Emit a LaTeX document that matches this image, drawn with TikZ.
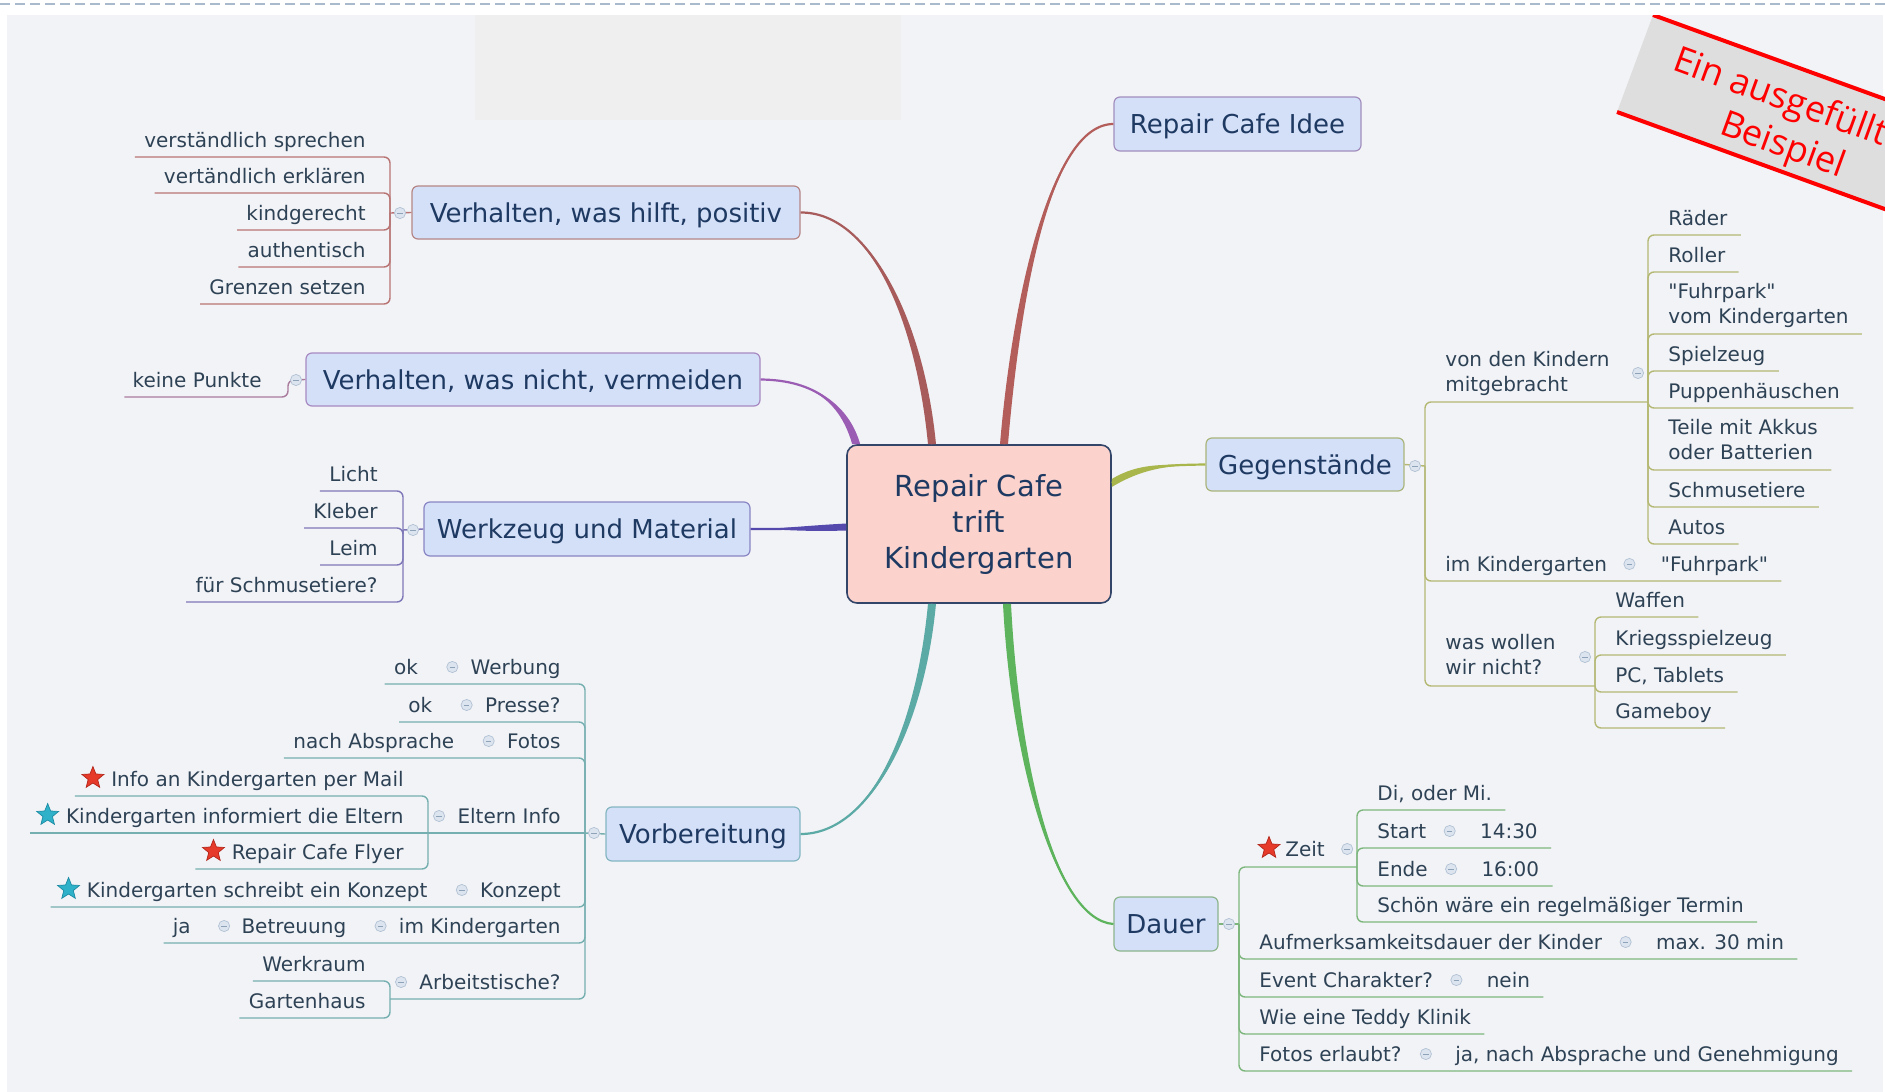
\documentclass[tikz,border=0pt]{standalone}
\usepackage{fontspec}
\setmainfont{DejaVu Sans}
\newfontfamily\bannerfont{Open Sans}
\usetikzlibrary{calc,shapes.geometric}
\definecolor{bgc}{HTML}{F2F3F7}
\definecolor{bgctwo}{HTML}{EFEFF0}
\definecolor{dashc}{HTML}{A9BACD}
\definecolor{topicfill}{HTML}{D4DFF8}
\definecolor{topictext}{HTML}{1E3A62}
\definecolor{subtext}{HTML}{2E4255}
\definecolor{ctrfill}{HTML}{FCD3CC}
\definecolor{ctrdraw}{HTML}{33466A}
\definecolor{cIdee}{HTML}{B35E5B}
\definecolor{cHilft}{HTML}{A85B5B}
\definecolor{cNicht}{HTML}{9B5CB4}
\definecolor{cWerk}{HTML}{5549AE}
\definecolor{cVor}{HTML}{5CAAA6}
\definecolor{cDauer}{HTML}{5DB45D}
\definecolor{cGeg}{HTML}{A9B64C}
\definecolor{bIdee}{HTML}{A28EBE}
\definecolor{bHilft}{HTML}{B58686}
\definecolor{bNicht}{HTML}{A88AC2}
\definecolor{bWerk}{HTML}{8A85C4}
\definecolor{bVor}{HTML}{84B6C2}
\definecolor{bGeg}{HTML}{A9B57A}
\definecolor{bDauer}{HTML}{8DB58D}
\definecolor{lHilft}{HTML}{B87474}
\definecolor{lNicht}{HTML}{A97C9E}
\definecolor{lWerk}{HTML}{7E78B8}
\definecolor{lVor}{HTML}{76AFB0}
\definecolor{lGeg}{HTML}{B4B872}
\definecolor{lDauer}{HTML}{7DB67D}
\definecolor{colfill}{HTML}{DCE4EF}
\definecolor{coldraw}{HTML}{B2C2D4}
\definecolor{colmin}{HTML}{8EA2B8}
\definecolor{bannergray}{HTML}{DEDEDE}
\definecolor{bannerred}{HTML}{FF0000}
\definecolor{starred}{HTML}{E63B2B}
\definecolor{starredd}{HTML}{B32519}
\definecolor{starcyan}{HTML}{2FB2C9}
\definecolor{starcyand}{HTML}{1B8BA3}
\begin{document}
\begin{tikzpicture}[x=0.5pt,y=-0.5pt,
 topic/.style={draw=#1, fill=topicfill, rounded corners=3pt, line width=0.6pt, text=topictext, font=\fontsize{13}{15}\selectfont, inner sep=0pt, text depth=0pt},
 sub/.style={inner sep=0pt, text=subtext, font=\fontsize{10}{12.5}\selectfont},
 lsub/.style={sub, anchor=base east},
 rsub/.style={sub, anchor=base west},
 msub/.style={sub, align=left, text depth=0pt, anchor=south west},
 collapse/.style={circle, draw=coldraw, fill=colfill, line width=0.35pt, minimum size=5.6pt, inner sep=0pt, path picture={\draw[colmin, line width=0.45pt] ([xshift=-1.4pt]path picture bounding box.center) -- ([xshift=1.4pt]path picture bounding box.center);}},
 brline/.style={line width=0.7pt, rounded corners=3pt},
 starshape/.style={star, star points=5, star point ratio=2.3, minimum size=11.5pt, inner sep=0pt, line width=0.35pt},
 redstar/.style={starshape, fill=starred, draw=starredd},
 cyanstar/.style={starshape, fill=starcyan, draw=starcyand}]
\useasboundingbox (0,0) rectangle (1885,1092);
% background
\fill[white] (0,0) rectangle (1885,1092);
\fill[bgc] (7,15) rectangle (1883,1092);
\fill[bgctwo] (475,15) rectangle (901,120);
\draw[dashc, line width=1pt, dash pattern=on 5pt off 2.5pt] (0,4) -- (1885,4);
% banner
\begin{scope}
\clip (7,15) rectangle (1885,1092);
\fill[bannergray] (1653,15) -- (1973,131) -- (1937,228) -- (1617,112) -- cycle;
\draw[bannerred, line width=2pt] (1653,15) -- (1973,131);
\draw[bannerred, line width=2pt] (1617,112) -- (1937,228);
\node[rotate=-20, align=center, text=bannerred, inner sep=0pt, font=\bannerfont\fontsize{18}{22}\selectfont] (banner) at (1790,126) {Ein ausgefüllte\phantom{s}\\Beispiel};
\end{scope}
% central and main topics
\node[draw=ctrdraw, fill=ctrfill, line width=0.8pt, rounded corners=5pt, minimum width=132pt, minimum height=79pt, align=center, text=topictext, font=\fontsize{14.5}{18}\selectfont, inner sep=0pt] (ctr) at (979,524) {Repair Cafe\\trift\\Kindergarten};
\node[topic=bIdee, minimum width=123.5pt, minimum height=27pt] (idee) at (1237.5,124) {Repair Cafe Idee};
\node[topic=bHilft, minimum width=194pt, minimum height=26.5pt] (hilft) at (606,212.5) {Verhalten, was hilft, positiv};
\node[topic=bNicht, minimum width=227pt, minimum height=26.5pt] (nicht) at (533,379.5) {Verhalten, was nicht, vermeiden};
\node[topic=bWerk, minimum width=163pt, minimum height=27pt] (werk) at (587,529) {Werkzeug und Material};
\node[topic=bVor, minimum width=97pt, minimum height=27pt] (vor) at (703,834) {Vorbereitung};
\node[topic=bGeg, minimum width=99pt, minimum height=26.5pt] (geg) at (1305,464.5) {Gegenstände};
\node[topic=bDauer, minimum width=52pt, minimum height=27pt] (dauer) at (1166,924) {Dauer};
% main tapered connectors
\coordinate (sIdee) at ($(ctr.north)+(25,0)$);
\fill[cIdee] ($(sIdee)+(-4,0)$) .. controls (1012,300) and (1050,124) .. (idee.west) .. controls (1050,124) and (1020,300) .. ($(sIdee)+(4,0)$) -- cycle;
\draw[cIdee, line width=1.1pt] (sIdee) .. controls (1016,300) and (1050,124) .. (idee.west);
\coordinate (sHilft) at ($(ctr.north)+(-47,0)$);
\fill[cHilft] ($(sHilft)+(-4,0)$) .. controls (916,320) and (870,212) .. (hilft.east) .. controls (870,212) and (924,320) .. ($(sHilft)+(4,0)$) -- cycle;
\draw[cHilft, line width=1.1pt] (sHilft) .. controls (920,320) and (870,212) .. (hilft.east);
\coordinate (sNicht) at ($(ctr.north west)+(10,0)$);
\fill[cNicht] ($(sNicht)+(-4,0)$) .. controls (841,405) and (815,380) .. (nicht.east) .. controls (815,380) and (849,405) .. ($(sNicht)+(4,0)$) -- cycle;
\draw[cNicht, line width=1.1pt] (sNicht) .. controls (845,405) and (815,380) .. (nicht.east);
\coordinate (sWerk) at ($(ctr.west)+(0,3)$);
\fill[cWerk] ($(sWerk)+(0,-3.5)$) .. controls (800,526) and (780,529) .. (werk.east) .. controls (780,529) and (800,532) .. ($(sWerk)+(0,3.5)$) -- cycle;
\draw[cWerk, line width=1.1pt] (sWerk) .. controls (800,529) and (780,529) .. (werk.east);
\coordinate (sGeg) at ($(ctr.east)+(0,-41)$);
\fill[cGeg] ($(sGeg)+(0,-4)$) .. controls (1140,462) and (1165,465) .. (geg.west) .. controls (1165,465) and (1140,470) .. ($(sGeg)+(0,4)$) -- cycle;
\draw[cGeg, line width=1.1pt] (sGeg) .. controls (1140,466) and (1165,465) .. (geg.west);
\coordinate (sVor) at ($(ctr.south)+(-47,0)$);
\fill[cVor] ($(sVor)+(-4,0)$) .. controls (916,730) and (870,834) .. (vor.east) .. controls (870,834) and (924,730) .. ($(sVor)+(4,0)$) -- cycle;
\draw[cVor, line width=1.1pt] (sVor) .. controls (920,730) and (870,834) .. (vor.east);
\coordinate (sDauer) at ($(ctr.south)+(28,0)$);
\fill[cDauer] ($(sDauer)+(-4,0)$) .. controls (1011,760) and (1055,920) .. (dauer.west) .. controls (1055,920) and (1019,760) .. ($(sDauer)+(4,0)$) -- cycle;
\draw[cDauer, line width=1.1pt] (sDauer) .. controls (1015,760) and (1055,920) .. (dauer.west);
% --- Verhalten, was hilft
\node[lsub] (a1) at (366,147) {verständlich sprechen};
\node[lsub] (a2) at (366,183) {vertändlich erklären};
\node[lsub] (a3) at (366,220) {kindgerecht};
\node[lsub] (a4) at (366,257) {authentisch};
\node[lsub] (a5) at (366,294) {Grenzen setzen};
\coordinate (pA) at (390,213);
\begin{scope}[lHilft, brline]
\draw (hilft.west) -- (pA);
\draw (pA) |- ($(a1.base west)+(-9,10)$);
\draw (pA) |- ($(a2.base west)+(-9,10)$);
\draw (pA) |- ($(a3.base west)+(-9,10)$);
\draw (pA) |- ($(a4.base west)+(-9,10)$);
\draw (pA) |- ($(a5.base west)+(-9,10)$);
\end{scope}
\node[collapse] (kA) at (400,213) {};
% --- Verhalten, was nicht
\node[lsub] (b1) at (262,387) {keine Punkte};
\coordinate (pB) at (288,380);
\draw[lNicht, brline] (nicht.west) -- (pB) |- ($(b1.base west)+(-8,10)$);
\node[collapse] (kB) at (296,380) {};
% --- Werkzeug
\node[lsub] (c1) at (378,481) {Licht};
\node[lsub] (c2) at (378,518) {Kleber};
\node[lsub] (c3) at (378,555) {Leim};
\node[lsub] (c4) at (378,592) {für Schmusetiere?};
\coordinate (pC) at (403,530);
\begin{scope}[lWerk, brline]
\draw (werk.west) -- (pC);
\draw (pC) |- ($(c1.base west)+(-9,10)$);
\draw (pC) |- ($(c2.base west)+(-9,10)$);
\draw (pC) |- ($(c3.base west)+(-9,10)$);
\draw (pC) |- ($(c4.base west)+(-9,10)$);
\end{scope}
\node[collapse] (kC) at (413,530) {};
% --- Vorbereitung
\node[lsub] (d1) at (561,674) {Werbung};
\node[lsub] (d1b) at ($(d1.base west)+(-52,0)$) {ok};
\node[lsub] (d2) at (561,712) {Presse?};
\node[lsub] (d2b) at ($(d2.base west)+(-52,0)$) {ok};
\node[lsub] (d3) at (561,748) {Fotos};
\node[lsub] (d3b) at ($(d3.base west)+(-52,0)$) {nach Absprache};
\node[lsub] (d4) at (561,823) {Eltern Info};
\node[lsub] (d41) at (404,786) {Info an Kindergarten per Mail};
\node[lsub] (d42) at (404,823) {Kindergarten informiert die Eltern};
\node[lsub] (d43) at (404,859) {Repair Cafe Flyer};
\node[lsub] (d5) at (561,897) {Konzept};
\node[lsub] (d5b) at ($(d5.base west)+(-52,0)$) {Kindergarten schreibt ein Konzept};
\node[lsub] (d6) at (561,933) {im Kindergarten};
\node[lsub] (d6b) at ($(d6.base west)+(-52,0)$) {Betreuung};
\node[lsub] (d6c) at ($(d6b.base west)+(-50,0)$) {ja};
\node[lsub] (d7) at (561,989) {Arbeitstische?};
\node[lsub] (d71) at (366,971) {Werkraum};
\node[lsub] (d72) at (366,1008) {Gartenhaus};
\coordinate (pD) at (585,833);
\coordinate (pE) at (428,833);
\coordinate (pF) at (390,999);
\begin{scope}[lVor, brline]
\draw (vor.west) -- (pD);
\draw (pD) |- ($(d1b.base west)+(-9,10)$);
\draw (pD) |- ($(d2b.base west)+(-9,10)$);
\draw (pD) |- ($(d3b.base west)+(-9,10)$);
\draw (pD) -- (pE);
\draw (pE) |- ($(d41.base west)+(-36,10)$);
\draw (pE) -- ($(d42.base west)+(-36,10)$);
\draw (pE) |- ($(d43.base west)+(-36,10)$);
\draw (pD) |- ($(d5b.base west)+(-36,10)$);
\draw (pD) |- ($(d6c.base west)+(-9,10)$);
\draw (pD) |- (pF);
\draw (pF) |- ($(d71.base west)+(-9,10)$);
\draw (pF) |- ($(d72.base west)+(-9,10)$);
\end{scope}
\node[collapse] (kD) at (594,833) {};
\node[collapse] (kD1) at ($(d1.base west)+(-18,-7)$) {};
\node[collapse] (kD2) at ($(d2.base west)+(-18,-7)$) {};
\node[collapse] (kD3) at ($(d3.base west)+(-18,-7)$) {};
\node[collapse] (kD4) at ($(d4.base west)+(-18,-7)$) {};
\node[collapse] (kD5) at ($(d5.base west)+(-18,-7)$) {};
\node[collapse] (kD6) at ($(d6.base west)+(-18,-7)$) {};
\node[collapse] (kD6b) at ($(d6b.base west)+(-17,-7)$) {};
\node[collapse] (kD7) at ($(d7.base west)+(-18,-7)$) {};
\node[redstar] (st1) at ($(d41.base west)+(-18,-8)$) {};
\node[cyanstar] (st2) at ($(d42.base west)+(-18,-8)$) {};
\node[redstar] (st3) at ($(d43.base west)+(-18,-8)$) {};
\node[cyanstar] (st4) at ($(d5b.base west)+(-18,-8)$) {};
% --- Gegenstaende
\node[msub] (e1) at (1445,392) {von den Kindern\\mitgebracht};
\node[rsub] (f1) at (1668,225) {Räder};
\node[rsub] (f2) at (1668,262) {Roller};
\node[msub] (f3) at (1668,324) {\textquotedbl Fuhrpark\textquotedbl\\vom Kindergarten};
\node[rsub] (f4) at (1668,361) {Spielzeug};
\node[rsub] (f5) at (1668,398) {Puppenhäuschen};
\node[msub] (f6) at (1668,460) {Teile mit Akkus\\oder Batterien};
\node[rsub] (f7) at (1668,497) {Schmusetiere};
\node[rsub] (f8) at (1668,534) {Autos};
\node[rsub] (e2) at (1445,571) {im Kindergarten};
\node[rsub] (e2b) at ($(e2.base east)+(53,0)$) {\textquotedbl Fuhrpark\textquotedbl};
\node[msub] (e3) at (1445,675) {was wollen\\wir nicht?};
\node[rsub] (g1) at (1615,607) {Waffen};
\node[rsub] (g2) at (1615,645) {Kriegsspielzeug};
\node[rsub] (g3) at (1615,682) {PC, Tablets};
\node[rsub] (g4) at (1615,718) {Gameboy};
\coordinate (pG) at (1425,466);
\coordinate (pH) at (1648,402);
\coordinate (pI) at (1595,686);
\begin{scope}[lGeg, brline]
\draw (geg.east) -- (pG);
\draw (pG) |- (pH);
\draw (pH) |- ($(f1.base east)+(13,10)$);
\draw (pH) |- ($(f2.base east)+(13,10)$);
\draw (pH) |- ($(f3.south east)+(13,10)$);
\draw (pH) |- ($(f4.base east)+(13,10)$);
\draw (pH) |- ($(f5.base east)+(13,10)$);
\draw (pH) |- ($(f6.south east)+(13,10)$);
\draw (pH) |- ($(f7.base east)+(13,10)$);
\draw (pH) |- ($(f8.base east)+(13,10)$);
\draw (pG) |- ($(e2b.base east)+(13,10)$);
\draw (pG) |- (pI);
\draw (pI) |- ($(g1.base east)+(13,10)$);
\draw (pI) |- ($(g2.base east)+(13,10)$);
\draw (pI) |- ($(g3.base east)+(13,10)$);
\draw (pI) |- ($(g4.base east)+(13,10)$);
\end{scope}
\node[collapse] (kG) at (1415,466) {};
\node[collapse] (kG1) at (1638,373) {};
\node[collapse] (kG2) at ($(e2.base east)+(22,-7)$) {};
\node[collapse] (kG3) at (1585,657) {};
% --- Dauer
\node[rsub] (h1) at (1285,856) {Zeit};
\node[redstar] (st5) at ($(h1.base west)+(-16,-8)$) {};
\node[rsub] (i1) at (1377,800) {Di, oder Mi.};
\node[rsub] (i2) at (1377,838) {Start};
\node[rsub] (i2b) at ($(i2.base east)+(53,0)$) {14:30};
\node[rsub] (i3) at (1377,876) {Ende};
\node[rsub] (i3b) at ($(i3.base east)+(53,0)$) {16:00};
\node[rsub] (i4) at (1377,912) {Schön wäre ein regelmäßiger Termin};
\node[rsub] (h2) at (1259,949) {Aufmerksamkeitsdauer der Kinder};
\node[rsub] (h2b) at ($(h2.base east)+(53,0)$) {max. 30 min};
\node[rsub] (h3) at (1259,987) {Event Charakter?};
\node[rsub] (h3b) at ($(h3.base east)+(53,0)$) {nein};
\node[rsub] (h4) at (1259,1024) {Wie eine Teddy Klinik};
\node[rsub] (h5) at (1259,1061) {Fotos erlaubt?};
\node[rsub] (h5b) at ($(h5.base east)+(53,0)$) {ja, nach Absprache und Genehmigung};
\coordinate (pJ) at (1239,924);
\coordinate (pK) at (1357,867);
\begin{scope}[lDauer, brline]
\draw (dauer.east) -- (pJ);
\draw (pJ) |- (pK);
\draw (pK) |- ($(i1.base east)+(13,10)$);
\draw (pK) |- ($(i2b.base east)+(13,10)$);
\draw (pK) |- ($(i3b.base east)+(13,10)$);
\draw (pK) |- ($(i4.base east)+(13,10)$);
\draw (pJ) |- ($(h2b.base east)+(13,10)$);
\draw (pJ) |- ($(h3b.base east)+(13,10)$);
\draw (pJ) |- ($(h4.base east)+(13,10)$);
\draw (pJ) |- ($(h5b.base east)+(13,10)$);
\end{scope}
\node[collapse] (kJ) at (1229,924) {};
\node[collapse] (kJ1) at ($(h1.base east)+(22,-7)$) {};
\node[collapse] (kJ2) at ($(i2.base east)+(23,-7)$) {};
\node[collapse] (kJ3) at ($(i3.base east)+(23,-7)$) {};
\node[collapse] (kJ4) at ($(h2.base east)+(23,-7)$) {};
\node[collapse] (kJ5) at ($(h3.base east)+(23,-7)$) {};
\node[collapse] (kJ6) at ($(h5.base east)+(24,-7)$) {};
\end{tikzpicture}
\end{document}
